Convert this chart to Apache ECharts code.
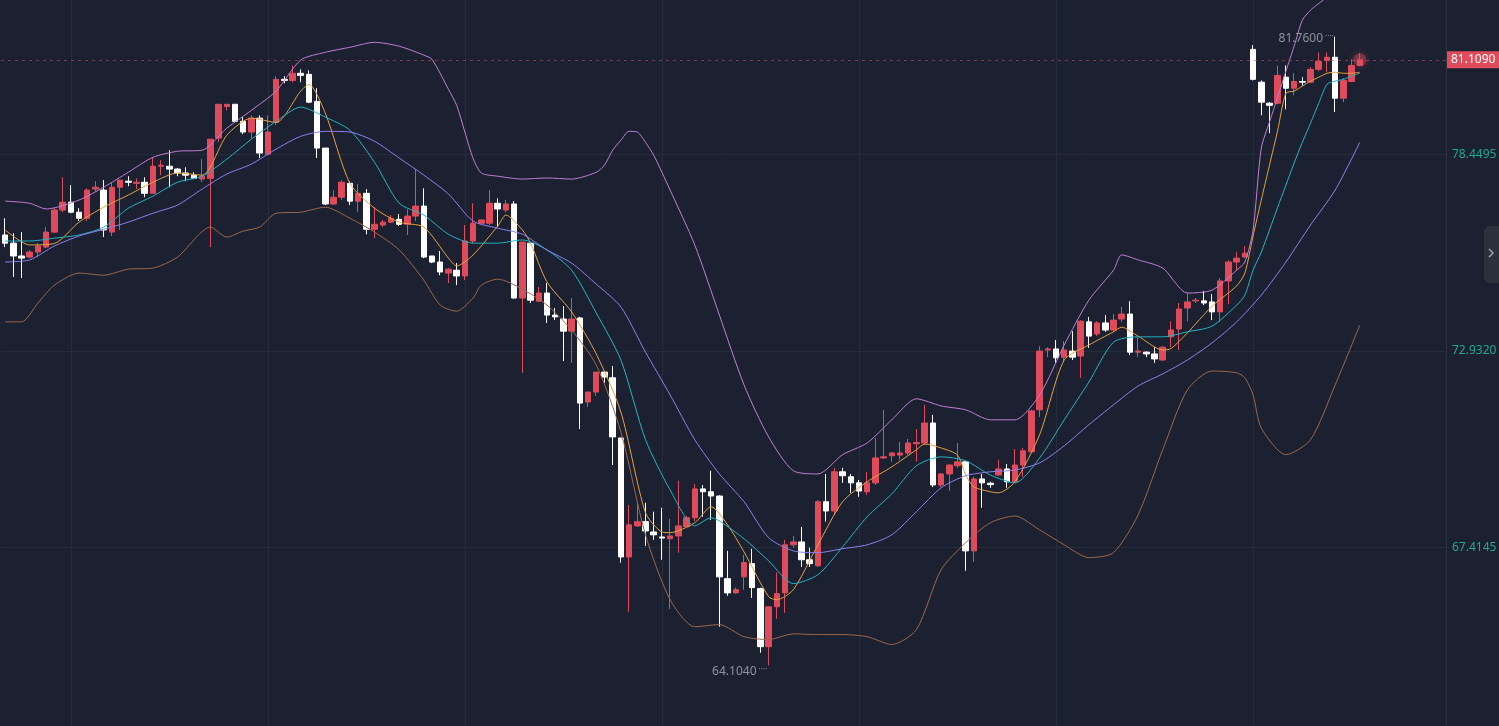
<!DOCTYPE html>
<html>
<head>
<meta charset="utf-8">
<script src="https://cdn.jsdelivr.net/npm/echarts@6/dist/echarts.min.js"></script>
<style>
html,body{margin:0;padding:0;background:#1b2130;overflow:hidden;}
#chart{width:1499px;height:726px;}
</style>
</head>
<body>
<div id="chart"></div>
<script>
// ---------------- data ----------------
const slotCount = 176;                       // category slots (last ones are empty)
const slots = Array.from({length: slotCount}, (_, i) => String(i));

// candles: [open, close, low, high]
const candles = [
[76.19,75.96,75.85,76.66],[75.96,75.60,75.01,76.24],[75.60,75.54,74.98,76.27],[75.57,75.71,75.54,75.77],[75.71,75.88,75.57,75.96],
[75.85,76.27,75.82,76.41],[76.27,76.89,76.24,76.94],[76.89,77.11,76.83,77.81],[77.11,76.83,76.80,77.59],[76.83,76.66,76.58,76.94],
[76.66,77.45,76.58,77.50],[77.48,77.53,77.42,77.70],[77.45,76.33,76.13,77.73],[76.27,77.53,76.16,77.67],[77.53,77.73,76.33,77.73],
[77.70,77.67,77.56,77.84],[77.64,77.67,77.48,77.78],[77.67,77.36,77.25,77.81],[77.36,78.12,77.36,78.37],[78.12,78.15,77.87,78.29],
[78.12,78.04,77.53,78.57],[78.04,77.93,77.84,78.07],[77.93,77.87,77.70,78.09],[77.87,77.78,77.76,77.95],[77.76,77.84,77.67,78.32],
[77.78,78.88,75.85,78.88],[78.91,79.86,78.79,79.86],[79.80,79.86,79.69,79.86],[79.86,79.38,79.35,79.86],[79.38,79.08,79.02,79.50],
[79.08,79.47,78.91,79.55],[79.47,78.49,78.35,79.55],[78.46,79.08,78.43,79.55],[79.35,80.56,79.27,80.65],[80.56,80.53,80.45,80.65],
[80.53,80.73,80.48,80.95],[80.73,80.67,80.48,80.84],[80.70,79.92,79.89,80.81],[79.94,78.63,78.35,80.31],[78.63,77.06,77.03,78.63],
[77.06,77.25,77.03,77.45],[77.25,77.67,77.17,77.73],[77.64,77.14,77.03,77.70],[77.14,77.36,76.83,77.62],[77.36,76.35,76.21,77.48],
[76.35,76.49,76.10,76.97],[76.47,76.55,76.41,76.61],[76.55,76.66,76.52,76.75],[76.63,76.49,76.44,76.78],[76.49,76.72,76.19,76.91],
[76.72,77.00,76.58,78.04],[77.00,75.57,75.54,77.50],[75.60,75.43,75.40,75.60],[75.43,75.15,75.06,75.74],[75.12,75.23,74.84,75.26],
[75.20,75.04,74.78,75.40],[75.04,76.02,74.92,76.47],[76.02,76.52,75.96,77.08],[76.52,76.61,76.47,76.63],[76.52,77.08,76.47,77.45],
[77.08,76.92,76.41,77.22],[76.89,77.06,76.83,77.17],[77.06,74.42,74.40,77.14],[74.42,75.99,72.32,75.99],[75.96,74.36,74.28,75.96],
[74.33,74.56,74.31,74.73],[74.56,73.94,73.72,74.84],[73.94,73.89,73.80,74.14],[73.83,73.49,72.65,74.19],[73.49,73.83,72.60,74.42],
[73.86,71.47,70.74,73.89],[71.50,71.78,71.36,71.78],[71.78,72.34,71.67,72.34],[72.34,72.20,72.04,72.36],[72.18,70.52,69.73,72.51],
[70.49,67.15,66.99,70.49],[67.15,68.05,65.61,68.61],[68.02,68.14,68.00,68.67],[68.14,67.88,67.46,68.67],[67.85,67.77,67.63,68.42],
[67.71,67.68,67.07,68.53],[67.66,67.74,65.69,68.22],[67.74,68.02,67.27,69.29],[68.00,68.25,67.99,68.30],[68.25,69.06,68.16,69.20],
[69.06,68.98,68.28,69.17],[68.98,68.86,68.19,69.57],[68.86,66.59,65.19,68.88],[66.54,66.14,66.06,67.32],[66.14,66.23,66.12,66.29],
[66.59,66.99,66.23,67.21],[66.96,66.29,66.00,67.38],[66.26,64.63,64.46,66.29],[64.63,65.75,64.104,65.75],[65.75,66.12,65.41,66.71],
[66.14,67.49,65.58,67.63],[67.49,67.57,67.41,67.74],[67.57,67.07,66.87,67.99],[67.07,66.96,66.87,67.41],[66.90,68.70,66.87,68.75],
[68.70,68.44,68.14,69.48],[68.44,69.54,68.33,69.65],[69.54,69.43,69.23,69.65],[69.40,69.23,68.95,69.48],[69.23,69.00,68.84,69.31],
[68.98,69.23,68.89,69.54],[69.23,69.93,69.17,70.49],[69.93,69.96,69.90,71.28],[69.99,70.07,69.82,70.09],[70.01,70.07,69.88,70.38],
[70.07,70.35,70.01,70.46],[70.33,70.36,69.82,70.74],[70.35,70.91,70.30,71.42],[70.91,69.17,69.11,71.14],[69.17,69.48,69.11,69.50],
[69.48,69.73,69.01,69.75],[69.71,69.82,69.65,70.35],[69.82,67.32,66.76,69.84],[67.32,69.34,67.01,69.40],[69.34,69.23,68.53,69.48],
[69.22,69.18,69.09,69.26],[69.45,69.62,69.43,69.88],[69.62,69.26,69.09,69.76],[69.26,69.73,69.23,70.18],[69.73,70.13,69.40,70.21],
[70.10,71.25,70.07,71.28],[71.28,72.93,71.08,73.07],[72.96,72.99,72.76,73.04],[72.99,72.74,72.60,73.24],[72.76,72.96,72.65,73.21],
[72.93,72.76,72.68,73.49],[72.79,73.77,72.18,73.79],[73.75,73.35,73.02,73.89],[73.41,73.72,73.35,73.77],[73.72,73.52,73.47,73.94],
[73.52,73.80,73.47,73.97],[73.83,73.97,73.75,74.17],[73.97,72.90,72.82,74.33],[72.90,72.93,72.76,73.33],[72.90,72.85,72.76,72.92],
[72.85,72.71,72.60,73.04],[72.68,73.04,72.65,73.06],[73.33,73.52,73.04,73.77],[73.55,74.11,72.96,74.28],[74.14,74.31,73.77,74.56],
[74.34,74.36,74.28,74.42],[74.34,74.28,74.22,74.62],[74.31,74.03,73.80,74.53],[74.03,74.90,73.75,74.98],[74.90,75.43,74.25,75.48],
[75.43,75.54,75.20,75.71],[75.57,75.68,75.55,75.88],[81.40,80.56,80.53,81.52],[80.48,79.92,79.55,80.53],[79.89,79.83,79.05,79.92],
[79.89,80.67,79.86,80.95],[80.62,80.31,79.72,80.95],[80.31,80.50,80.11,80.73],[80.50,80.48,80.39,80.62],[80.48,80.84,80.45,80.90],
[80.84,81.07,80.79,81.32],[81.09,81.18,80.76,81.32],[81.18,80.03,79.64,81.76],[80.03,80.53,79.92,80.59],[80.50,80.95,80.48,81.12],
[80.95,81.109,80.93,81.29]
];

// indicator lines: [candle index, value]
const ma5 = [[0,76.33],[3,75.91],[6,75.95],[9,76.55],[12,76.97],[15,77.31],[18,77.67],[21,77.93],[24,77.87],[27,78.99],[30,79.47],[33,79.35],[36,80.23],[37,80.42],[39,79.61],[42,77.64],[45,76.94],[48,76.55],[51,76.41],[54,75.54],[55,75.32],[57,75.63],[60,76.44],[61,76.75],[63,76.33],[64,75.96],[66,74.87],[69,74.03],[72,72.85],[75,71.22],[78,68.39],[80,67.85],[81,67.83],[84,68.11],[86,68.56],[88,68.05],[90,67.29],[93,66.03],[94,65.95],[96,66.23],[99,67.49],[102,68.70],[105,69.26],[108,69.68],[111,70.16],[112,70.32],[114,70.21],[116,70.01],[117,69.45],[118,69.12],[120,68.98],[121,68.95],[123,69.26],[126,70.58],[129,72.68],[132,73.10],[135,73.47],[136,73.60],[138,73.35],[141,72.96],[142,73.00],[144,73.44],[147,74.19],[150,74.76],[151,75.12],[152,76.16],[153,77.17],[154,78.15],[155,79.13],[156,80.17],[157,80.23],[158,80.37],[159,80.51],[160,80.62],[161,80.73],[162,80.76],[163,80.73],[164,80.73],[165,80.76]];
const ma10 = [[0,76.02],[3,76.02],[6,76.10],[9,76.19],[12,76.41],[15,76.94],[18,77.28],[21,77.67],[24,77.84],[27,78.32],[30,78.88],[33,79.38],[36,79.78],[39,79.50],[42,79.13],[45,78.23],[48,77.08],[51,76.75],[54,76.21],[57,75.96],[60,75.96],[63,76.05],[66,75.77],[69,75.20],[72,74.00],[75,72.68],[78,70.44],[81,69.03],[84,68.02],[86,68.25],[87,68.16],[90,67.66],[93,67.04],[96,66.40],[99,66.65],[102,67.43],[105,68.28],[108,68.92],[111,69.71],[114,69.96],[117,69.85],[120,69.45],[123,69.23],[126,69.93],[129,71.00],[132,72.06],[135,73.18],[138,73.33],[141,73.33],[144,73.47],[147,73.63],[150,74.22],[151,74.50],[152,75.20],[153,75.71],[154,76.33],[155,76.97],[156,77.59],[157,78.21],[158,78.79],[159,79.33],[160,79.89],[161,80.42],[162,80.51],[163,80.56],[164,80.65],[165,80.73]];
const ma20 = [[0,75.43],[3,75.49],[6,75.88],[9,76.16],[12,76.35],[15,76.55],[18,76.80],[21,77.03],[24,77.48],[27,77.90],[30,78.18],[33,78.60],[36,78.96],[39,79.10],[42,79.08],[45,78.82],[48,78.35],[51,77.87],[54,77.34],[57,76.58],[60,76.38],[63,76.21],[66,75.77],[69,75.40],[72,74.81],[75,74.17],[78,72.90],[81,71.70],[84,70.44],[87,69.48],[90,68.70],[93,67.69],[96,67.32],[99,67.27],[102,67.38],[105,67.49],[108,67.77],[111,68.42],[114,69.09],[117,69.43],[120,69.54],[123,69.59],[126,69.79],[129,70.27],[132,70.86],[135,71.42],[138,71.95],[141,72.29],[144,72.68],[147,73.16],[150,73.75],[153,74.50],[156,75.43],[159,76.47],[162,77.45],[165,78.79]];
const bollUpper = [[0,77.14],[3,77.08],[5,76.92],[9,77.17],[12,77.53],[15,77.95],[18,78.37],[21,78.54],[24,78.57],[27,79.19],[30,79.69],[33,80.23],[36,81.10],[39,81.32],[42,81.46],[45,81.60],[48,81.49],[51,81.24],[52,81.12],[54,80.28],[55,79.83],[56,79.08],[57,78.34],[58,77.93],[60,77.84],[63,77.76],[66,77.79],[69,77.76],[72,77.95],[73,78.15],[74,78.57],[75,78.85],[76,79.10],[77,79.08],[78,78.79],[79,78.43],[80,77.95],[81,77.45],[84,75.91],[87,73.94],[90,71.98],[93,70.52],[96,69.57],[99,69.48],[102,70.02],[105,70.35],[108,71.00],[111,71.59],[114,71.39],[117,71.28],[120,71.00],[123,71.00],[126,71.70],[129,73.10],[132,74.36],[135,75.20],[136,75.63],[138,75.49],[141,75.26],[144,74.56],[147,74.64],[150,75.20],[151,75.43],[152,76.33],[153,78.63],[154,79.36],[155,80.06],[156,80.79],[157,81.49],[158,82.22],[159,82.50],[160,82.69],[161,82.86],[162,83.00],[163,83.17],[164,83.34],[165,83.48]];
const bollLower = [[0,73.75],[2,73.75],[4,74.28],[6,74.78],[9,75.12],[12,75.06],[15,75.23],[18,75.26],[21,75.57],[25,76.41],[27,76.13],[29,76.30],[31,76.41],[33,76.80],[36,76.83],[39,76.97],[42,76.66],[45,76.27],[48,75.77],[51,74.92],[53,74.22],[55,74.05],[57,74.42],[58,74.78],[60,74.95],[63,74.67],[66,74.22],[69,73.52],[72,72.54],[75,70.66],[78,67.77],[81,65.95],[84,65.19],[87,65.25],[90,64.91],[93,64.83],[96,64.99],[99,64.97],[102,64.97],[105,64.91],[108,64.69],[111,65.11],[114,66.79],[117,67.55],[120,68.11],[123,68.30],[126,67.91],[129,67.49],[132,67.13],[135,67.27],[138,68.33],[141,70.16],[144,71.84],[147,72.37],[150,72.32],[151,72.18],[152,71.70],[153,70.77],[156,70.02],[159,70.44],[162,71.98],[165,73.66]];

const yTickLabels = [67.4145, 72.9320, 78.4495];
const yTickStep = 5.5175;
const lastPrice = 81.109;
const highMark = [162, 81.76];
const lowMark = [93, 64.104];

// ---------------- chart ----------------
const UP = '#e04b5c', DOWN = '#ffffff';
const chart = echarts.init(document.getElementById('chart'), null, {renderer: 'canvas'});
const lineSeries = (name, data, color, width) => ({
  name, type: 'line', data, showSymbol: false, symbol: 'none', smooth: 0.25,
  lineStyle: {color, width: width || 1}, z: 3, silent: true, clip: true
});

chart.setOption({
  animation: false,
  backgroundColor: '#1b2130',
  textStyle: {fontFamily: '"Noto Sans", "Liberation Sans", sans-serif'},
  grid: {left: 1, right: 53, top: -42, bottom: -18, containLabel: false, outerBoundsMode: 'none'},
  xAxis: {
    type: 'category', data: slots, boundaryGap: true,
    axisLine: {show: false}, axisTick: {show: false}, axisLabel: {show: false},
    splitLine: {show: true, alignWithLabel: true, interval: (i) => i % 24 === 8,
      lineStyle: {color: '#252d3b', width: 1}}
  },
  yAxis: {
    type: 'value', position: 'right', scale: true,
    min: yTickLabels[0] - yTickStep, max: yTickLabels[2] + yTickStep, interval: yTickStep,
    axisLine: {show: true, lineStyle: {color: '#2a3242'}},
    axisTick: {show: false},
    axisLabel: {color: '#22a88f', fontSize: 12, margin: 6, formatter: (v) => v.toFixed(4)},
    splitLine: {show: true, lineStyle: {color: '#252d3b', width: 1}}
  },
  series: [
    {
      name: 'K', type: 'candlestick', data: candles, barWidth: 6, z: 2,
      itemStyle: {color: UP, color0: DOWN, borderColor: UP, borderColor0: DOWN, borderWidth: 1},
      markPoint: {
        symbol: 'circle', symbolSize: 1, silent: true,
        itemStyle: {color: 'rgba(0,0,0,0)'},
        label: {show: true, position: 'left', distance: 1, color: '#8e939d', fontSize: 12,
          formatter: (p) => '{t|' + p.value.toFixed(4) + '}{d| ····}',
          rich: {t: {color: '#8e939d', fontSize: 12}, d: {color: '#8e939d', fontSize: 8, verticalAlign: 'top'}}},
        data: [
          {coord: highMark, value: highMark[1], label: {offset: [0, 2]}},
          {coord: lowMark, value: lowMark[1], label: {offset: [0, 6]}}
        ]
      }
    },
    lineSeries('MA5', ma5, '#e9a23b'),
    lineSeries('MA10', ma10, '#22b4c2'),
    lineSeries('MA20', ma20, '#8e80f2'),
    lineSeries('UP', bollUpper, '#c37ed4'),
    lineSeries('DN', bollLower, '#a0674a'),
    {
      name: 'last', type: 'line', data: [], showSymbol: false, silent: true, z: 4,
      color: '#d0435a',
      lineStyle: {color: '#d0435a'},
      markLine: {
        symbol: 'none', silent: true, precision: 4,
        lineStyle: {color: 'rgba(208,67,90,0.6)', type: [3, 4], width: 1},
        label: {show: true, position: 'end', distance: 1, formatter: lastPrice.toFixed(4),
          backgroundColor: '#e04b5c', color: '#ffffff', fontSize: 12, padding: [3, 4, 2, 4]},
        emphasis: {disabled: true},
        data: [{yAxis: lastPrice}]
      }
    },
    {
      type: 'scatter', data: [[165, lastPrice]], symbolSize: 13, z: 5, silent: true,
      itemStyle: {color: 'rgba(232,80,96,0.45)', shadowBlur: 8, shadowColor: 'rgba(232,80,96,0.9)'}
    }
  ],
  graphic: [
    {type: 'polygon', silent: true, z: 10,
      shape: {points: [[1499,226],[1488,226],[1484,230],[1484,279],[1488,283],[1499,283]]},
      style: {fill: '#2b313d'}},
    {type: 'polyline', silent: true, z: 11,
      shape: {points: [[1489,249],[1493,253],[1489,257]]},
      style: {stroke: '#9aa1ae', lineWidth: 1.5, fill: null}}
  ]
});
</script>
</body>
</html>
